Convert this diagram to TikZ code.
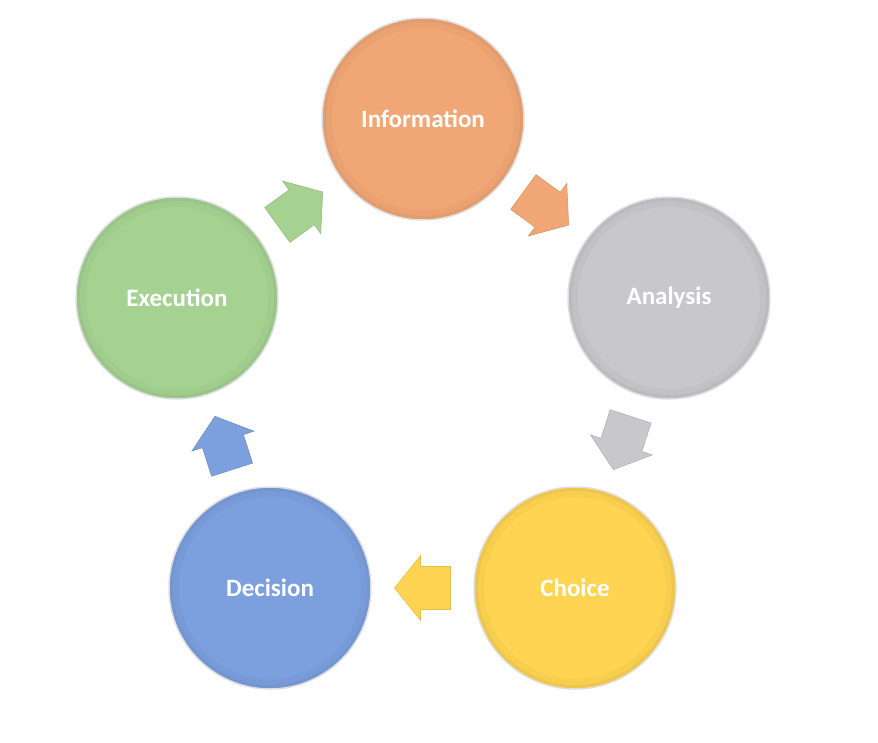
\documentclass[tikz,border=0pt]{standalone}
\usepackage{fontspec}
\setmainfont{Carlito}
\definecolor{cinfo}{RGB}{241,167,117}
\definecolor{cana}{RGB}{200,200,204}
\definecolor{ccho}{RGB}{255,212,82}
\definecolor{cdec}{RGB}{124,160,222}
\definecolor{cexe}{RGB}{165,210,145}
\tikzset{
  stage/.style={circle, minimum size=202pt, inner sep=0pt, fill=#1,
    draw=gray!25, line width=1.5pt, text=white,
    font=\fontsize{25}{30}\selectfont\bfseries,
    path picture={
      \draw[#1!75!black, line width=10pt, opacity=0.10]
        (path picture bounding box.center) circle (96pt);
      \draw[#1!75!black, line width=4pt, opacity=0.15]
        (path picture bounding box.center) circle (99pt);
    }},
  barrow/.pic={
    \filldraw[pic actions, line width=0.6pt, line join=miter]
      (-28,-21.5) -- (2,-21.5) -- (2,-32.5) -- (28,0) -- (2,32.5)
      -- (2,21.5) -- (-28,21.5) -- cycle;
  },
  arr/.style={pos=0.5, sloped, allow upside down, fill=#1, draw=#1!90!black}
}
\begin{document}
\begin{tikzpicture}[x=1pt, y=1pt]
  \useasboundingbox (0,0) rectangle (878,-742);
  \node[stage=cinfo] (info) at (423,-119) {Information};
  \node[stage=cana]  (ana)  at (669,-298) {Analysis};
  \node[stage=ccho]  (cho)  at (575,-588) {Choice};
  \node[stage=cdec]  (dec)  at (270,-588) {Decision};
  \node[stage=cexe]  (exe)  at (177,-298) {Execution};
  \path (info) -- pic[arr=cinfo] {barrow} (ana);
  \path (ana)  -- pic[arr=cana]  {barrow} (cho);
  \path (cho)  -- pic[arr=ccho]  {barrow} (dec);
  \path (dec)  -- pic[arr=cdec]  {barrow} (exe);
  \path (exe)  -- pic[arr=cexe]  {barrow} (info);
\end{tikzpicture}
\end{document}
